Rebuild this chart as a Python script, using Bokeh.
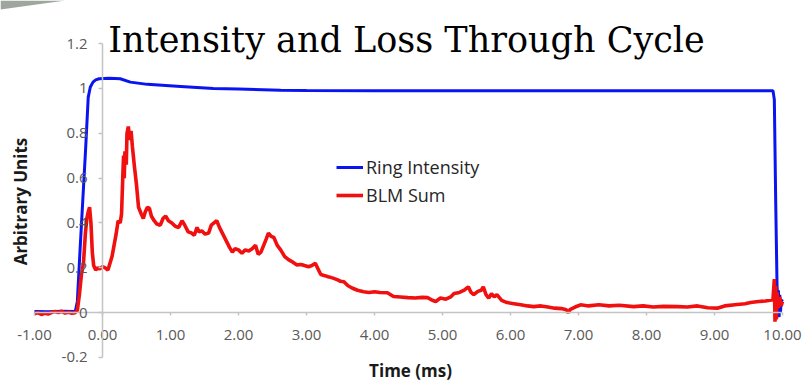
import math
from bokeh.plotting import figure
from bokeh.models import (Range1d, FixedTicker, CustomJSTickFormatter, NumeralTickFormatter,
                          Legend, LegendItem, Label)
from bokeh.embed import file_html
from bokeh.resources import INLINE

# ---------------- data ----------------
chart_title = "Intensity and Loss Through Cycle"
x_title = "Time (ms)"
y_title = "Arbitrary Units"
series_names = ["Ring Intensity", "BLM Sum"]

x_ticks = [-1, 0, 1, 2, 3, 4, 5, 6, 7, 8, 9, 10]
y_ticks = [-0.2, 0, 0.2, 0.4, 0.6, 0.8, 1.0, 1.2]

ring_t = [-1.00, -0.80, -0.60, -0.40, -0.37, -0.33, -0.29, -0.25, -0.21, -0.18, -0.14,
          -0.10, -0.05, 0.10, 0.26, 0.41, 0.66, 1.15, 1.63, 2.00, 2.62, 3.00, 4.00,
          5.00, 6.00, 7.00, 8.00, 9.00, 9.86, 9.88, 9.90, 9.92, 9.93, 9.94, 9.95,
          9.96, 9.97, 9.98, 10.00]
ring_v = [0.005, 0.004, 0.006, 0.005, 0.05, 0.28, 0.50, 0.72, 0.96, 1.005, 1.028,
          1.038, 1.043, 1.045, 1.043, 1.028, 1.018, 1.009, 1.000, 0.997, 0.992, 0.991, 0.990,
          0.990, 0.990, 0.990, 0.990, 0.990, 0.990, 0.95, 0.50, 0.12, 0.06, 0.10, -0.02,
          0.08, 0.00, 0.05, 0.06]

blm_t = [-1.00, -0.95, -0.90, -0.85, -0.80, -0.75, -0.70, -0.65, -0.60, -0.55, -0.50,
         -0.45, -0.40, -0.37, -0.34, -0.31, -0.28, -0.25, -0.23, -0.21, -0.19, -0.17,
         -0.15, -0.13, -0.10, -0.07, -0.04, 0.00, 0.04, 0.08, 0.11, 0.14, 0.17, 0.20,
         0.23, 0.26, 0.28, 0.30, 0.31, 0.32, 0.33, 0.35, 0.36, 0.38, 0.40, 0.42, 0.44,
         0.47, 0.50, 0.53, 0.57, 0.60, 0.63, 0.66, 0.69, 0.72, 0.76, 0.80, 0.85, 0.89,
         0.93, 0.97, 1.02, 1.07, 1.12, 1.17, 1.21, 1.26, 1.31, 1.35, 1.39, 1.42, 1.46,
         1.51, 1.56, 1.60, 1.64, 1.68, 1.72, 1.77, 1.82, 1.87, 1.91, 1.95, 2.00, 2.05,
         2.10, 2.15, 2.20, 2.25, 2.29, 2.33, 2.37, 2.41, 2.44, 2.48, 2.52, 2.57, 2.62,
         2.68, 2.74, 2.80, 2.86, 2.92, 2.97, 3.03, 3.08, 3.13, 3.17, 3.21, 3.27, 3.32,
         3.38, 3.45, 3.50, 3.55, 3.61, 3.67, 3.75, 3.84, 3.92, 4.00, 4.08, 4.19, 4.28,
         4.38, 4.49, 4.60, 4.70, 4.78, 4.85, 4.90, 4.97, 5.05, 5.12, 5.17, 5.25, 5.32,
         5.38, 5.42, 5.46, 5.52, 5.57, 5.60, 5.64, 5.68, 5.72, 5.76, 5.80, 5.87, 5.95,
         6.05, 6.15, 6.25, 6.34, 6.45, 6.55, 6.65, 6.75, 6.82, 6.85, 6.88, 6.95, 7.03,
         7.15, 7.30, 7.45, 7.60, 7.81, 7.95, 8.10, 8.25, 8.46, 8.60, 8.75, 8.90, 9.04,
         9.15, 9.30, 9.45, 9.53, 9.65, 9.75, 9.86, 9.88, 9.89, 9.90, 9.91, 9.92, 9.94,
         9.96, 9.98, 10.00]
blm_v = [-0.005, 0.000, -0.008, -0.003, -0.006, 0.000, 0.005, 0.000, 0.006, -0.002, 0.002,
         -0.003, 0.000, 0.010, 0.080, 0.170, 0.220, 0.360, 0.420, 0.450, 0.470, 0.400,
         0.270, 0.210, 0.190, 0.200, 0.195, 0.205, 0.200, 0.190, 0.220, 0.250, 0.300, 0.350,
         0.410, 0.400, 0.440, 0.620, 0.700, 0.600, 0.720, 0.660, 0.800, 0.830, 0.770, 0.810, 0.740,
         0.650, 0.570, 0.470, 0.440, 0.420, 0.450, 0.470, 0.465, 0.430, 0.410, 0.395, 0.390, 0.420,
         0.430, 0.410, 0.400, 0.385, 0.380, 0.410, 0.390, 0.360, 0.355, 0.345, 0.380, 0.360, 0.365,
         0.350, 0.355, 0.390, 0.400, 0.410, 0.380, 0.350, 0.320, 0.290, 0.270, 0.285, 0.280, 0.265,
         0.280, 0.275, 0.285, 0.300, 0.260, 0.270, 0.300, 0.330, 0.355, 0.340, 0.335, 0.300, 0.280,
         0.250, 0.235, 0.225, 0.213, 0.215, 0.210, 0.205, 0.210, 0.220, 0.195, 0.170, 0.165, 0.160,
         0.155, 0.147, 0.140, 0.138, 0.120, 0.110, 0.100, 0.093, 0.090, 0.093, 0.090, 0.089, 0.072,
         0.070, 0.067, 0.065, 0.068, 0.067, 0.055, 0.050, 0.065, 0.060, 0.070, 0.085, 0.090, 0.100,
         0.115, 0.090, 0.080, 0.095, 0.100, 0.115, 0.080, 0.065, 0.085, 0.070, 0.080, 0.055, 0.045,
         0.040, 0.035, 0.030, 0.027, 0.030, 0.025, 0.020, 0.018, 0.013, 0.000, 0.015, 0.025, 0.035,
         0.030, 0.035, 0.030, 0.033, 0.027, 0.030, 0.025, 0.028, 0.027, 0.025, 0.030, 0.022, 0.020,
         0.030, 0.035, 0.040, 0.045, 0.050, 0.052, 0.058, 0.150, -0.040, 0.120, -0.030, 0.090, 0.020,
         0.070, 0.030, 0.050]

# ---------------- figure ----------------
# The frame covers the whole canvas, so the axes (placed at x=0 / y=0) and the texts are not clipped.
W, H = 803, 383
x_lo, x_hi = -1.5, 10.309
y_lo, y_hi = -0.316, 1.392
p = figure(width=W, height=H, output_backend="svg", toolbar_location=None,
           x_range=Range1d(x_lo, x_hi), y_range=Range1d(y_lo, y_hi),
           min_border_left=0, min_border_right=0, min_border_top=0, min_border_bottom=0,
           background_fill_color="white", border_fill_color="white")
p.outline_line_color = None
p.grid.visible = False

# slide decoration in the top-left corner
p.patch([x_lo, x_lo + 65 / 68, x_lo], [y_hi, y_hi, y_hi - 9 / 224], fill_color="#9ea69e",
        line_color=None)

axis_grey = "#c4c4c4"
label_grey = "#595959"

xa = p.xaxis[0]
xa.fixed_location = 0
xa.bounds = (x_ticks[0], x_ticks[-1])
xa.ticker = FixedTicker(ticks=x_ticks)
xa.formatter = NumeralTickFormatter(format="0.00")
xa.minor_tick_line_color = None
xa.major_tick_out = 3
xa.major_tick_in = 0
xa.axis_line_color = axis_grey
xa.axis_line_width = 1.5
xa.major_tick_line_color = axis_grey
xa.major_tick_line_width = 1.5
xa.major_label_text_font = "Open Sans"
xa.major_label_text_font_size = "15px"
xa.major_label_text_color = label_grey
xa.major_label_standoff = 14

ya = p.yaxis[0]
ya.fixed_location = 0
ya.bounds = (y_ticks[0], y_ticks[-1])
ya.ticker = FixedTicker(ticks=y_ticks)
ya.formatter = CustomJSTickFormatter(code="return tick.toFixed(1).replace(/\\.0$/, '')")
ya.minor_tick_line_color = None
ya.major_tick_out = 4
ya.major_tick_in = 0
ya.axis_line_color = axis_grey
ya.axis_line_width = 1.5
ya.major_tick_line_color = axis_grey
ya.major_tick_line_width = 1.5
ya.major_label_text_font = "Open Sans"
ya.major_label_text_font_size = "15px"
ya.major_label_text_color = label_grey
ya.major_label_standoff = 11

r_blue = p.line(ring_t, ring_v, line_color="#0a14f0", line_width=3)
r_red = p.line(blm_t, blm_v, line_color="#f01010", line_width=3.6)

legend = Legend(items=[LegendItem(label=series_names[0], renderers=[r_blue]),
                       LegendItem(label=series_names[1], renderers=[r_red])],
                location=(336, 174), orientation="vertical",
                border_line_color=None, background_fill_alpha=0,
                padding=0, margin=0, spacing=0,
                glyph_width=27, glyph_height=28, label_height=28, label_standoff=3,
                label_text_font="Open Sans", label_text_font_size="18px",
                label_text_color="#262626")
p.add_layout(legend, "center")

title = Label(x=4.47, y=1.2143, text=chart_title, text_align="center",
              text_baseline="alphabetic", text_font="DejaVu Serif",
              text_font_size="35px", text_color="black")
p.add_layout(title)

xlab = Label(x=4.53, y=-0.259, text=x_title, text_align="center", text_baseline="middle",
             text_font="Open Sans", text_font_style="bold", text_font_size="17px",
             text_color="#1a1a1a")
p.add_layout(xlab)

ylab = Label(x=-1.206, y=0.4955, text=y_title, text_align="center", text_baseline="middle",
             angle=math.pi / 2, text_font="Open Sans", text_font_style="bold",
             text_font_size="17px", text_color="#1a1a1a")
p.add_layout(ylab)

open("out.html", "w").write(file_html(p, INLINE))
